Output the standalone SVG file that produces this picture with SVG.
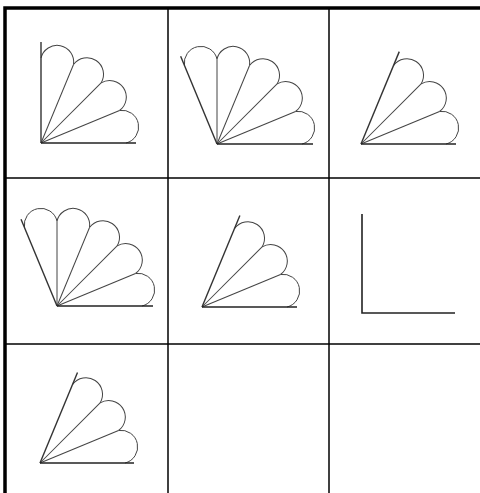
<svg xmlns="http://www.w3.org/2000/svg" width="480" height="493" viewBox="0 0 480 493">
<style>
  .grid{stroke:#000;stroke-width:1.5;fill:none}
  .outer{stroke:#000;stroke-width:3.5;fill:none}
  .arc,.spoke{stroke:#444;stroke-width:1;fill:none}
  .base{stroke:#222;stroke-width:1.6;fill:none}
  .edge{stroke:#333;stroke-width:1.4;fill:none}
</style>
<defs>
  <path id="arc" class="arc" d="M85,0 A16.6,16.6 0 0 0 78.53,-32.53"/>
  <path id="spoke" class="spoke" d="M0,0 H85"/>
</defs>
<rect width="480" height="493" fill="#fff"/>
<g id="grid">
  <line class="grid" x1="168" y1="8" x2="168" y2="493"/>
  <line class="grid" x1="329" y1="8" x2="329" y2="493"/>
  <line class="grid" x1="5" y1="178" x2="480" y2="178"/>
  <line class="grid" x1="5" y1="344" x2="480" y2="344"/>
  <path class="outer" d="M5,493 V8 H480"/>
</g>
<g id="connectors"></g>
<g id="fan1" transform="translate(41,143)">
  <use href="#arc"/>
  <use href="#arc" transform="rotate(-22.5)"/>
  <use href="#arc" transform="rotate(-45)"/>
  <use href="#arc" transform="rotate(-67.5)"/>
  <use href="#spoke" transform="rotate(-22.5)"/>
  <use href="#spoke" transform="rotate(-45)"/>
  <use href="#spoke" transform="rotate(-67.5)"/>
  <line class="edge" x1="0" y1="0" x2="0" y2="-101"/>
  <line class="base" x1="0" y1="0" x2="95" y2="0"/>
</g>
<g id="fan2" transform="translate(217,144)">
  <use href="#arc"/>
  <use href="#arc" transform="rotate(-22.5)"/>
  <use href="#arc" transform="rotate(-45)"/>
  <use href="#arc" transform="rotate(-67.5)"/>
  <use href="#arc" transform="rotate(-90)"/>
  <use href="#spoke" transform="rotate(-22.5)"/>
  <use href="#spoke" transform="rotate(-45)"/>
  <use href="#spoke" transform="rotate(-67.5)"/>
  <use href="#spoke" transform="rotate(-90)"/>
  <line class="edge" x1="0" y1="0" x2="-36.35" y2="-87.77"/>
  <line class="base" x1="0" y1="0" x2="96" y2="0"/>
</g>
<g id="fan3" transform="translate(361,144)">
  <use href="#arc"/>
  <use href="#arc" transform="rotate(-22.5)"/>
  <use href="#arc" transform="rotate(-45)"/>
  <use href="#spoke" transform="rotate(-22.5)"/>
  <use href="#spoke" transform="rotate(-45)"/>
  <line class="edge" x1="0" y1="0" x2="38.27" y2="-92.39"/>
  <line class="base" x1="0" y1="0" x2="95" y2="0"/>
</g>
<g id="fan4" transform="translate(57,306)">
  <use href="#arc"/>
  <use href="#arc" transform="rotate(-22.5)"/>
  <use href="#arc" transform="rotate(-45)"/>
  <use href="#arc" transform="rotate(-67.5)"/>
  <use href="#arc" transform="rotate(-90)"/>
  <use href="#spoke" transform="rotate(-22.5)"/>
  <use href="#spoke" transform="rotate(-45)"/>
  <use href="#spoke" transform="rotate(-67.5)"/>
  <use href="#spoke" transform="rotate(-90)"/>
  <line class="edge" x1="0" y1="0" x2="-35.97" y2="-86.84"/>
  <line class="base" x1="0" y1="0" x2="96" y2="0"/>
</g>
<g id="fan5" transform="translate(202,307)">
  <use href="#arc"/>
  <use href="#arc" transform="rotate(-22.5)"/>
  <use href="#arc" transform="rotate(-45)"/>
  <use href="#spoke" transform="rotate(-22.5)"/>
  <use href="#spoke" transform="rotate(-45)"/>
  <line class="edge" x1="0" y1="0" x2="37.89" y2="-91.46"/>
  <line class="base" x1="0" y1="0" x2="95" y2="0"/>
</g>
<g id="corner6" transform="translate(362,313)">
  <path class="base" d="M0,-99 V0 H93"/>
</g>
<g id="fan7" transform="translate(40,463)">
  <use href="#arc"/>
  <use href="#arc" transform="rotate(-22.5)"/>
  <use href="#arc" transform="rotate(-45)"/>
  <use href="#spoke" transform="rotate(-22.5)"/>
  <use href="#spoke" transform="rotate(-45)"/>
  <line class="edge" x1="0" y1="0" x2="37.5" y2="-90.54"/>
  <line class="base" x1="0" y1="0" x2="94" y2="0"/>
</g>
</svg>
